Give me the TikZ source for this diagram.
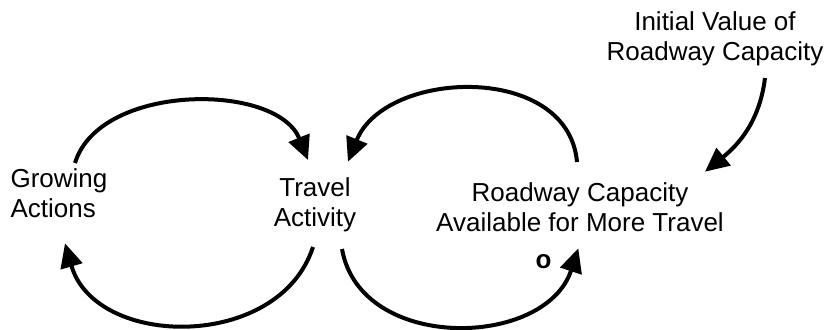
\documentclass[tikz,border=0pt]{standalone}
\usepackage{fontspec}
\setmainfont{Liberation Sans}
\usetikzlibrary{arrows.meta}

\begin{document}
\begin{tikzpicture}[x=0.5pt, y=0.5pt,
		var/.style={font=\fontsize{13}{15}\selectfont, align=center, inner sep=3pt},
		link/.style={-{Triangle[length=12pt, width=11pt]}, line width=2pt}]
		\useasboundingbox (0, 0) rectangle (827, 329);

		\node[var, align=left] (ga) at (59, 135.5) {Growing\\Actions};
		\node[var] (ta) at (315, 124) {Travel\\Activity};
		\node[var] (rc) at (580, 121.6) {Roadway Capacity\\Available for More Travel};
		\node[var] (iv) at (715, 290) {Initial Value of\\Roadway Capacity};
		\node[var, inner sep=0pt] (pol) at (543.5, 67.5) {\textbf{o}};

		% left loop
		\draw[link] ([shift={(16, 30.5)}]ga.center) to[out=73, in=112, looseness=0.92] ([shift={(-7, 45)}]ta.center);
		\draw[link] ([shift={(-2, -42)}]ta.center) to[out=-108, in=-74, looseness=1.13] ([shift={(6, -49.8)}]ga.center);

		% right loop
		\draw[link] ([shift={(-3, 45.4)}]rc.center) to[out=95, in=68, looseness=1.12] ([shift={(33, 43.3)}]ta.center);
		\draw[link] ([shift={(27, -44)}]ta.center) to[out=-80, in=-108, looseness=1.14] ([shift={(-1.7, -40.9)}]rc.center);

		% initial value
		\draw[link] ([shift={(50, -39)}]iv.center) to[out=-97, in=39] ([shift={(125, 35.7)}]rc.center);
\end{tikzpicture}
\end{document}
